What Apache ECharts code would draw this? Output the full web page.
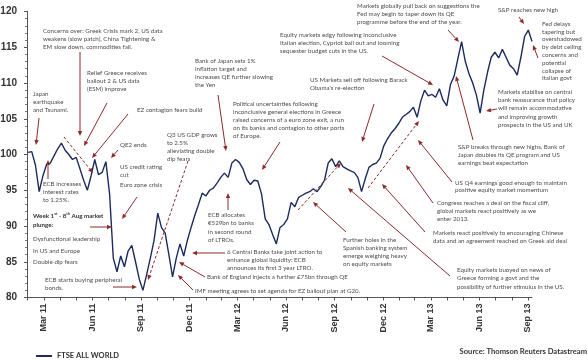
<!DOCTYPE html>
<html>
<head>
<meta charset="utf-8">
<script src="https://cdn.jsdelivr.net/npm/echarts@6/dist/echarts.min.js"></script>
<style>
  html, body { margin: 0; padding: 0; background: #fff; }
  #chart { width: 588px; height: 360px; }
</style>
</head>
<body>
<div id="chart"></div>
<script>
// FTSE All World, weekly closes from 1 Mar 2011 (indexed)
const startDate = Date.UTC(2011, 2, 1)
const ftseAllWorld = [
  100.3, 100.4, 98.5, 94.8, 97.0, 98.6, 98.8, 99.8, 100.8, 101.6,
  100.6, 100.0, 99.3, 99.6, 98.0, 96.4, 95.0, 97.0, 99.3, 97.2,
  97.5, 99.0, 94.5, 85.5, 83.6, 85.8, 84.3, 86.5, 87.3, 85.0,
  82.6, 81.0, 83.2, 85.5, 88.0, 91.8, 89.8, 89.0, 86.0, 82.9,
  85.5, 87.5, 85.8, 88.0, 89.8, 91.5, 93.0, 94.6, 94.2, 95.0,
  95.3, 96.0, 96.8, 97.4, 96.8, 98.8, 99.3, 98.9, 98.0, 96.5,
  95.8, 96.4, 96.3, 94.5, 91.0, 90.2, 88.8, 87.5, 89.8, 90.2,
  91.0, 93.3, 92.7, 94.0, 94.3, 94.6, 94.8, 95.2, 94.8, 95.5,
  96.4, 98.8, 99.4, 98.3, 99.1, 98.3, 98.0, 97.7, 97.5, 96.8,
  94.8, 96.6, 98.2, 98.6, 98.8, 99.5, 101.2, 102.2, 103.0, 103.6,
  104.3, 105.2, 105.6, 106.0, 106.6, 105.2, 107.5, 109.0, 108.2, 108.4,
  108.0, 109.2, 107.6, 106.8, 109.8, 111.0, 113.4, 115.8, 113.0, 111.3,
  110.0, 108.3, 105.8, 109.0, 111.5, 113.6, 114.3, 113.5, 114.7, 113.6,
  112.5, 112.0, 111.1, 113.6, 116.5, 117.4, 115.8
]

// quarter labels sit on month ends
const tickLabels = ['Mar 11', 'Jun 11', 'Sep 11', 'Dec 11', 'Mar 12', 'Jun 12',
  'Sep 12', 'Dec 12', 'Mar 13', 'Jun 13', 'Sep 13']
const tickDates = ['2011-03-31', '2011-06-30', '2011-09-30', '2011-12-31', '2012-03-31', '2012-06-30',
  '2012-09-30', '2012-12-31', '2013-03-31', '2013-06-30', '2013-09-30']

const DAY = 86400000
const toTs = s => Date.parse(s + 'T00:00:00Z')
const labelTs = tickDates.map(toTs)
const monthEnds = []
for (let y = 2011; y <= 2013; y++) {
  for (let m = 0; m < 12; m++) {
    const t = Date.UTC(y, m + 1, 0)
    if (t >= Date.UTC(2011, 1, 27) && t <= Date.UTC(2013, 9, 8)) monthEnds.push(t)
  }
}
const seriesData = ftseAllWorld.map((v, i) => [startDate + i * 7 * DAY, v])

const RED = '#8e2b2b'
const TXT = '#4d4d4d'
const FONT = '6.2px Lato'

// annotation helpers
function note(x, y, lines, lh) {
  return {
    type: 'text', x: x, y: y, z: 10,
    style: { text: lines.join('\n'), font: FONT, fill: TXT, lineHeight: lh || 8, verticalAlign: 'top' }
  }
}
function arrow(x1, y1, x2, y2, dashed) {
  const a = Math.atan2(y2 - y1, x2 - x1)
  const L = 5, W = 2.2
  const bx = x2 - L * Math.cos(a), by = y2 - L * Math.sin(a)
  return [
    { type: 'line', z: 9, shape: { x1: x1, y1: y1, x2: bx, y2: by },
      style: { stroke: RED, lineWidth: 1, lineDash: dashed ? [3, 2] : null } },
    { type: 'polygon', z: 9, shape: { points: [[x2, y2],
      [bx - W * Math.sin(a), by + W * Math.cos(a)], [bx + W * Math.sin(a), by - W * Math.cos(a)]] },
      style: { fill: RED } }
  ]
}

const graphics = [].concat(
  note(43, 27, ['Concerns over: Greek Crisis mark 2, US data', 'weakens (slow patch), China Tightening &', 'EM slow down, commodities fall.']),
  arrow(80, 52, 80, 136),
  note(33, 90, ['Japan', 'earthquake', 'and Tsunami.']),
  arrow(39, 118, 36, 145),
  note(87, 69, ['Relief Greece receives', 'bailout 2 & US data', '(ESM) improve']),
  arrow(107, 103, 84, 146),
  note(137, 106, ['EZ contagion fears build']),
  arrow(128, 114, 92, 158),
  arrow(64, 137, 93, 173, true),
  note(120, 141, ['QE2 ends']),
  arrow(118, 150, 111, 158),
  note(120, 163, ['US credit rating', 'cut']),
  note(120, 181, ['Euro zone crisis']),
  arrow(137, 197, 122, 219),
  note(43, 180, ['ECB increases', 'interest rates', 'to 1.25%.']),
  arrow(48, 179, 48, 160),
  {
    type: 'text', x: 33, y: 212, z: 10,
    style: {
      text: '{b|Week 1}{s|st}{b| - 8}{s|th}{b| Aug market}\n{b|plunge:}',
      lineHeight: 9, verticalAlign: 'top',
      rich: {
        b: { font: 'bold 6.2px Lato', fill: '#333' },
        s: { font: 'bold 4px Lato', fill: '#333', verticalAlign: 'top' }
      }
    }
  },
  arrow(90, 227, 112, 227),
  note(33, 233, ['Dysfunctional leadership', 'In US and Europe', 'Double dip fears'], 11.7),
  note(45, 276, ['ECB starts buying peripheral', 'bonds.']),
  arrow(113, 287, 137, 287),
  note(167, 131, ['Q3 US GDP grows', 'to 2.5%', 'alleviating double', 'dip fears']),
  arrow(188, 161, 148, 280, true),
  note(195, 57, ['Bank of Japan sets 1%', 'inflation target and', 'increases QE further slowing', 'the Yen']),
  arrow(218, 95, 226, 151),
  note(233, 100, ['Political uncertainties following', 'inconclusive general elections in Greece',
    'raised concerns of a euro zone exit, a run', 'on its banks and contagion to other ports', 'of Europe.']),
  arrow(280, 142, 262, 170),
  note(280, 31, ['Equity markets edgy following inconclusive', 'Italian election, Cypriot bail out and looming', 'sequester budget cuts in the US.']),
  arrow(382, 56, 433, 85),
  note(357, 2, ['Markets globally pull back on suggestions the', 'Fed may begin to taper down its QE', 'programme before the end of the year.']),
  arrow(448, 30, 459, 42),
  note(498, 6, ['S&P reaches new high']),
  arrow(519, 17, 524, 24),
  note(542, 20, ['Fed delays', 'tapering but', 'overshadowed', 'by debt ceiling', 'concerns and', 'potential', 'collapse of', 'Italian govt'], 7.8),
  arrow(538, 58, 533, 45),
  note(310, 76, ['US Markets sell off following Barack', "Obama's re-election"]),
  arrow(374, 104, 362, 142),
  note(498, 88, ['Markets stabilise on central', 'bank reassurance that policy', 'will remain accommodative', 'and improving growth', 'prospects in the US and UK'], 8.2),
  arrow(497, 109, 486, 111),
  note(458, 143, ['S&P breaks through new highs, Bank of', 'Japan doubles its QE program and US', 'earnings beat expectation']),
  arrow(473, 140, 456, 76),
  note(455, 179, ['US Q4 earnings good enough to maintain', 'positive equity market momentum'], 7.5),
  arrow(452, 182, 418, 140),
  note(437, 199, ['Congress reaches a deal on the fiscal cliff,', 'global markets react positively as we', 'enter 2013.']),
  arrow(433, 203, 406, 165),
  note(433, 229, ['Markets react positively to encouraging Chinese', 'data and an agreement reached on Greek aid deal']),
  arrow(425, 232, 382, 184),
  note(457, 266, ['Equity markets buoyed on news of', 'Greece forming a govt and the', 'possibility of further stimulus in the US.'], 8.3),
  arrow(450, 276, 348, 188),
  arrow(298, 210, 341, 163, true),
  arrow(368, 188, 419, 121, true),
  note(343, 236, ['Further holes in the', 'Spanish banking system', 'emerge weighing heavy', 'on equity markets']),
  arrow(346, 232, 313, 202),
  note(208, 211, ['ECB allocates', '\u20ac529bn to banks', 'in second round', 'of LTROs.'], 8.3),
  arrow(228, 210, 228, 193),
  note(227, 248, ['6 Central Banks take joint action to', 'enhance global liquidity: ECB', 'announces its first 3 year LTRO.']),
  arrow(225, 253, 192, 253),
  note(207, 273, ['Bank of England injects a further \u00a375bn through QE']),
  arrow(205, 277, 179, 262),
  note(195, 287, ['IMF meeting agrees to set agenda for EZ bailout plan at G20.']),
  arrow(193, 290, 178, 275),
  {
    type: 'text', right: 1, top: 348,
    style: { text: 'Source: Thomson Reuters Datastream', font: 'bold 7.6px Lato', fill: '#333' }
  }
)

const chart = echarts.init(document.getElementById('chart'))

const option = {
  animation: false,
  backgroundColor: '#fff',
  grid: { left: 27, right: 56, top: 11.5, bottom: 62.5, containLabel: false, outerBoundsMode: 'none' },
  legend: {
    left: 31, top: 347,
    icon: 'rect', itemWidth: 16, itemHeight: 2, itemGap: 7,
    textStyle: { fontFamily: 'Lato', fontWeight: 'bold', fontSize: 7.5, color: '#333' },
    data: ['FTSE ALL WORLD']
  },
  xAxis: {
    type: 'value',
    min: Date.UTC(2011, 1, 27),
    max: Date.UTC(2013, 9, 8),
    splitLine: { show: false },
    axisLine: { lineStyle: { color: '#555', width: 1 } },
    axisTick: { show: true, customValues: monthEnds, length: 3, lineStyle: { color: '#555' } },
    axisLabel: {
      customValues: labelTs,
      rotate: 90,
      margin: 6,
      fontFamily: 'Liberation Sans',
      fontWeight: 'bold',
      fontSize: 9,
      color: '#333',
      formatter: v => tickLabels[labelTs.indexOf(v)] || ''
    }
  },
  yAxis: {
    type: 'value',
    min: 80, max: 120, interval: 5,
    splitLine: { show: false },
    axisLine: { show: true, lineStyle: { color: '#555', width: 1 } },
    axisTick: { show: true, length: 3, lineStyle: { color: '#555' } },
    minorTick: { show: true, splitNumber: 5, length: 2, lineStyle: { color: '#777' } },
    axisLabel: { margin: 10, fontFamily: 'Liberation Sans', fontWeight: 'bold', fontSize: 10, color: '#333' }
  },
  series: [{
    name: 'FTSE ALL WORLD',
    type: 'line',
    data: seriesData,
    showSymbol: false,
    lineStyle: { color: '#1d2b5e', width: 1.4 },
    itemStyle: { color: '#1d2b5e' }
  }],
  graphic: graphics
}

chart.setOption(option)
</script>
</body>
</html>
